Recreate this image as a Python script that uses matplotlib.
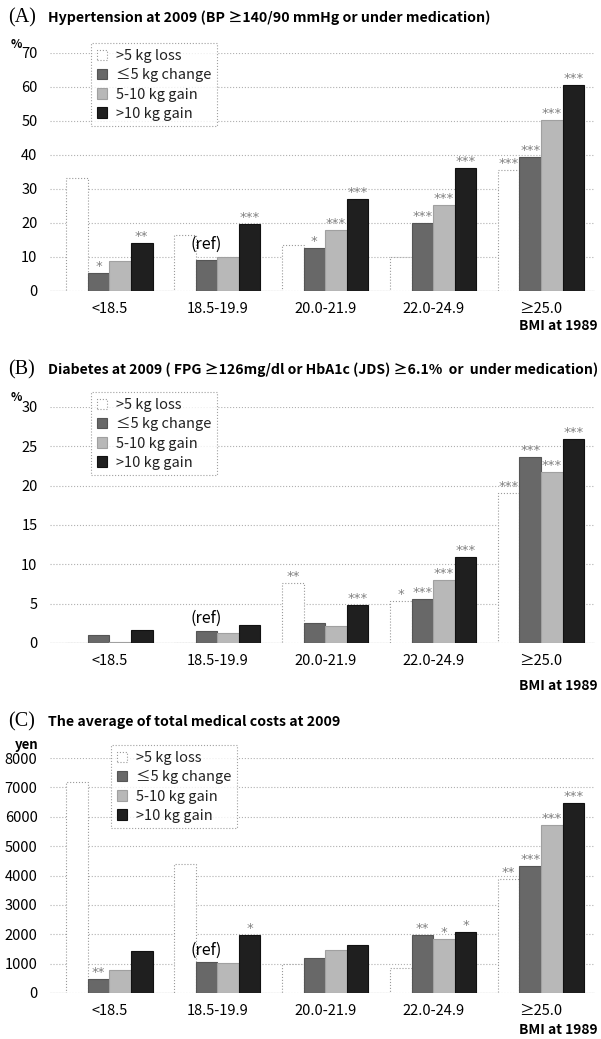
# Weight change groups by BMI at 1989: hypertension, diabetes, medical costs at 2009

import numpy as np
import matplotlib.pyplot as plt

plt.rcParams['font.family'] = ['Noto Sans CJK JP', 'DejaVu Sans']

categories = ['<18.5', '18.5-19.9', '20.0-21.9', '22.0-24.9', '≥25.0']
groups = ['>5 kg loss', '≤5 kg change', '5-10 kg gain', '>10 kg gain']

# (A) hypertension %, one list per weight change group
hyp_loss = [33.3, 16.6, 13.6, 10.0, 35.6]
hyp_stable = [5.3, 9.0, 12.7, 20.0, 39.3]
hyp_gain = [8.7, 10.0, 17.8, 25.2, 50.2]
hyp_gain10 = [14.2, 19.6, 27.2, 36.2, 60.6]
hyp_stars = [['', '*', '', '**'],
             ['', '', '', '***'],
             ['', '*', '***', '***'],
             ['', '***', '***', '***'],
             ['***', '***', '***', '***']]

# (B) diabetes %
dm_loss = [0.0, 0.0, 7.6, 5.3, 19.1]
dm_stable = [1.0, 1.5, 2.5, 5.6, 23.6]
dm_gain = [0.1, 1.3, 2.1, 8.0, 21.8]
dm_gain10 = [1.7, 2.3, 4.8, 10.9, 25.9]
dm_stars = [['', '', '', ''],
            ['', '', '', ''],
            ['**', '', '', '***'],
            ['*', '***', '***', '***'],
            ['***', '***', '***', '***']]

# (C) average total medical costs, yen
cost_loss = [7200, 4400, 1000, 860, 3870]
cost_stable = [460, 1070, 1200, 1980, 4320]
cost_gain = [790, 1010, 1470, 1850, 5710]
cost_gain10 = [1440, 1980, 1620, 2070, 6460]
cost_stars = [['', '**', '', ''],
              ['', '', '', '*'],
              ['', '', '', ''],
              ['', '**', '*', '*'],
              ['**', '***', '***', '***']]

colors = ['white', '#686868', '#b8b8b8', '#1f1f1f']
edges = ['#999999', '#555555', '#a0a0a0', '#111111']

W, H = 601, 1039
fig = plt.figure(figsize=(W / 100, H / 100), dpi=100)


def fy(px):
    return 1 - px / H


def panel(top, bottom, series, stars, ymax, ystep, letter, title, title_size,
          title_y, legend_xy, ref_y, bmi_y):
    hpx = bottom - top
    ax = fig.add_axes([50 / W, fy(bottom), 545 / W, hpx / H])
    x = np.arange(len(categories))
    w = 0.2
    for i, vals in enumerate(series):
        pos = x - 0.3 + i * w
        ax.bar(pos, vals, width=w, color=colors[i], edgecolor=edges[i],
               linewidth=0.8, linestyle=':' if i == 0 else '-',
               label=groups[i], zorder=3)
        for j, v in enumerate(vals):
            s = stars[j][i]
            if s:
                ax.annotate(s, (pos[j], v), xytext=(0, 0), textcoords='offset points',
                            ha='center', va='bottom', fontsize=9.5, color='#808080',
                            family='DejaVu Sans', zorder=4)
    ax.set_xlim(-0.55, 4.5)
    ax.set_ylim(0, ymax)
    ax.set_yticks(np.arange(0, ymax + 1, ystep))
    ax.grid(axis='y', color='#b0b0b0', linestyle=':', linewidth=0.8, zorder=0)
    ax.axhline(0, color='#999999', linewidth=0.8, zorder=2)
    for sp in ax.spines.values():
        sp.set_visible(False)
    ax.tick_params(axis='y', length=0, pad=9, labelsize=10.5)
    ax.tick_params(axis='x', length=0, pad=8, labelsize=10.5)
    ax.set_xticks(x)
    ax.set_xticklabels(categories)
    ax.text(548 / 545, -(bmi_y - bottom) / hpx, 'BMI at 1989', transform=ax.transAxes,
            ha='right', va='center', fontsize=10, fontweight='bold')
    ax.text(0.9, ref_y, '(ref)', ha='center', va='bottom', fontsize=11.5, zorder=4)
    fig.text(8 / W, fy(title_y), letter, fontsize=14.5, family='Liberation Serif',
             va='center', ha='left')
    fig.text(48 / W, fy(title_y), title, fontsize=title_size, fontweight='bold',
             va='center', ha='left')
    leg = ax.legend(loc='upper left', bbox_to_anchor=(legend_xy[0] / W, fy(legend_xy[1])),
                    bbox_transform=fig.transFigure, fontsize=10.5, frameon=True,
                    fancybox=False, handlelength=0.7, handleheight=0.7,
                    handletextpad=0.6, labelspacing=0.35, borderpad=0.4)
    leg.get_frame().set_edgecolor('#888888')
    leg.get_frame().set_linestyle(':')
    leg.get_frame().set_linewidth(0.8)
    for t in leg.get_texts():
        t.set_color('#222222')
    return ax


panel(53, 291, [hyp_loss, hyp_stable, hyp_gain, hyp_gain10], hyp_stars, 70, 10,
      '(A)', 'Hypertension at 2009 (BP ≥140/90 mmHg or under medication)', 10.2,
      18, (84, 36), 11.3, 326)
panel(407, 643, [dm_loss, dm_stable, dm_gain, dm_gain10], dm_stars, 30, 5,
      '(B)', 'Diabetes at 2009 ( FPG ≥126mg/dl or HbA1c (JDS) ≥6.1%  or  under medication)',
      10.1, 370, (84, 385), 2.1, 686)
panel(758, 993, [cost_loss, cost_stable, cost_gain, cost_gain10], cost_stars, 8000, 1000,
      '(C)', 'The average of total medical costs at 2009', 10.2,
      722, (104, 738), 1150, 1030)

fig.text(11 / W, fy(44), '%', fontsize=8.5, fontweight='bold', ha='left', va='center')
fig.text(11 / W, fy(398), '%', fontsize=8.5, fontweight='bold', ha='left', va='center')
fig.text(27 / W, fy(745), 'yen', fontsize=9.5, fontweight='bold', ha='center', va='center')

plt.savefig('out.png', dpi=100)
